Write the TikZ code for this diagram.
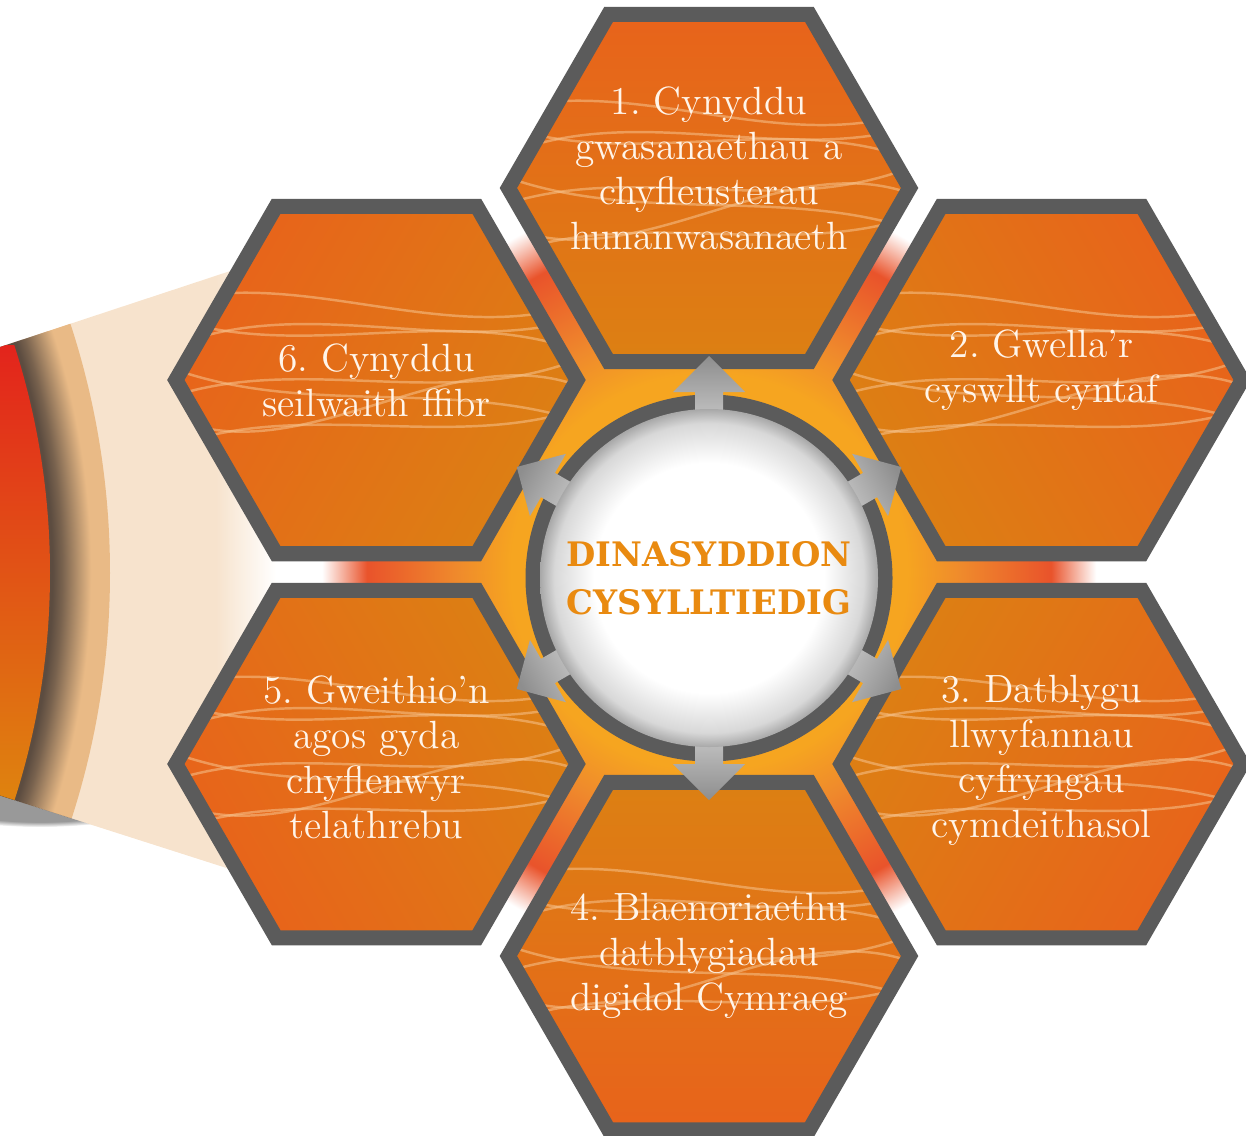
\documentclass[tikz,border=0pt]{standalone}
\usepackage{fontspec}
\usetikzlibrary{shapes.geometric,calc,fadings}

\newfontfamily\slabfont{DejaVu Serif}
\frenchspacing

\definecolor{hexgrey}{HTML}{5B5B5B}
\definecolor{hexouter}{HTML}{E8631B}
\definecolor{hexinner}{HTML}{DC8013}
\definecolor{wavecol}{HTML}{F7C48F}
\definecolor{labelcream}{HTML}{FFF5EA}
\definecolor{titleorange}{HTML}{E98A10}
\definecolor{glowamber}{HTML}{F6A520}
\definecolor{gloworange}{HTML}{EF8A2C}
\definecolor{glowred}{HTML}{E9532B}
\definecolor{cream}{HTML}{F7E3CD}
\definecolor{bandtan}{HTML}{E9BA86}
\definecolor{shadowdark}{HTML}{5C4C40}
\definecolor{bandred}{HTML}{E3241C}
\definecolor{bandmid}{HTML}{E2661A}
\definecolor{bandorange}{HTML}{DF830F}
\definecolor{arrowlight}{HTML}{CACACA}
\definecolor{arrowdark}{HTML}{8E8E8E}
\definecolor{diskpale}{HTML}{D8D8D8}
\definecolor{diskgrey}{HTML}{A8A8A8}

\pgfdeclareradialshading{gapglow}{\pgfpointorigin}{color(0bp)=(glowamber); color(11bp)=(glowamber); color(14bp)=(gloworange); color(19bp)=(glowred); color(21.5bp)=(white); color(50bp)=(white)}
\pgfdeclareradialshading{tanband}{\pgfpointorigin}{color(0bp)=(shadowdark); color(23.2bp)=(shadowdark); color(23.5bp)=(shadowdark!80!bandtan); color(24.4bp)=(bandtan); color(50bp)=(bandtan)}
\pgfdeclareradialshading{diskglow}{\pgfpointorigin}{color(0bp)=(white); color(17bp)=(white); color(22.9bp)=(diskpale); color(25bp)=(diskgrey); color(50bp)=(diskgrey)}
\pgfdeclarehorizontalshading{creamfade}{100bp}{color(0bp)=(cream); color(61bp)=(cream); color(71bp)=(white); color(100bp)=(white)}

\begin{document}
\begin{tikzpicture}[x=0.01cm, y=0.01cm,
  waveline/.style={wavecol, line width=0.7pt, opacity=0.55},
  waves/.style={path picture={
    \foreach \ya/\ca/\cb/\yb in {-65/45/-40/-30, -40/-50/45/-5, -15/40/-50/20, 10/-45/40/-40, 35/50/-35/60, 60/-40/45/30, 80/30/-40/75}
      \draw[waveline] ($(path picture bounding box.center)+(-200,\ya)$) .. controls +(130,\ca) and +(-130,\cb) .. ($(path picture bounding box.center)+(200,\yb)$);
  }},
  hexcell/.style={regular polygon, regular polygon sides=6, minimum size=4.01cm, inner sep=0pt,
    draw=hexgrey, line width=0.15cm, top color=hexouter, bottom color=hexinner, waves},
  hexlabel/.style={align=center, text=labelcream, inner sep=0pt, font=\fontsize{11.2}{12.8}\selectfont},
  hubtitle/.style={align=center, text=titleorange, inner sep=0pt, font=\slabfont\bfseries\fontsize{9.6}{13.7}\selectfont},
  pointer/.style={top color=arrowdark, bottom color=arrowlight}]
\useasboundingbox (0,0) rectangle (1246,1135);

\coordinate (hub) at (709,563);
\coordinate (core) at (709,557);
\coordinate (apex) at (-690,562);

% glow in the gaps
\shade[shading=gapglow] (hub) circle (450);

% beam on the left
\begin{scope}
\clip (0,788) -- (300,887) -- (300,243.5) -- (0,339.5) -- cycle;
\shade[shading=creamfade] (0,243.5) rectangle (300,887);
\shade[shading=tanband] (apex) circle (800);
\clip (apex) circle (740);
\shade[top color=bandred, middle color=bandmid, bottom color=bandorange] (0,335) rectangle (70,790);
\end{scope}
\begin{scope}
\clip (0,339.5) -- (300,243.5) -- (300,150) -- (0,150) -- cycle;
\fill[black, opacity=0.4, path fading=circle with fuzzy edge 20 percent] (40,334) ellipse (120 and 26);
\end{scope}

% cells
\node[hexcell, shading angle=0] (hex1) at ($(hub)+(90:384)$) {};
\node[hexcell, shading angle=-60] (hex2) at ($(hub)+(30:384)$) {};
\node[hexcell, shading angle=-120] (hex3) at ($(hub)+(-30:384)$) {};
\node[hexcell, shading angle=180] (hex4) at ($(hub)+(-90:384)$) {};
\node[hexcell, shading angle=120] (hex5) at ($(hub)+(210:384)$) {};
\node[hexcell, shading angle=60] (hex6) at ($(hub)+(150:384)$) {};

\node[hexlabel] (lab1) at ($(hex1)+(0,20)$) {1. Cynyddu\\gwasanaethau a\\chyfleusterau\\hunanwasanaeth};
\node[hexlabel] (lab2) at ($(hex2)+(0,10)$) {2. Gwella’r\\cyswllt cyntaf};
\node[hexlabel] (lab3) at ($(hex3)+(0,4)$) {3. Datblygu\\llwyfannau\\cyfryngau\\cymdeithasol};
\node[hexlabel] (lab4) at (hex4) {4. Blaenoriaethu\\datblygiadau\\digidol Cymraeg};
\node[hexlabel] (lab5) at ($(hex5)+(0,7)$) {5. Gweithio’n\\agos gyda\\chyflenwyr\\telathrebu};
\node[hexlabel] (lab6) at (hex6) {6. Cynyddu\\seilwaith ffibr};

% hub
\draw[hexgrey, line width=0.15cm] (core) circle (176);
\foreach \ang [evaluate=\ang as \rot using \ang-90] in {90,30,-30,-90,-150,150}
  \shade[pointer, shading angle=\rot, shift={(core)}, rotate=\ang]
    (150,-14) -- (186,-14) -- (186,-36) -- (222,0) -- (186,36) -- (186,14) -- (150,14) -- cycle;
\shade[shading=diskglow] (core) circle (169);
\node[hubtitle] (hubtext) at (core) {DINASYDDION\\CYSYLLTIEDIG};
\end{tikzpicture}
\end{document}
